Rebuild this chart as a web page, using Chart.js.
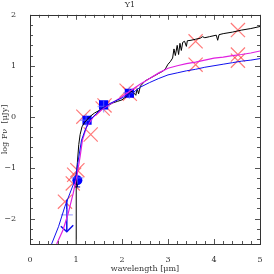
<!DOCTYPE html>
<html><head><meta charset="utf-8">
<script src="https://cdn.jsdelivr.net/npm/chart.js@4"></script>
<style>html,body{margin:0;padding:0;background:#fff}#w{width:274px;height:274px}</style>
</head><body><div id="w"><canvas id="c"></canvas></div>
<script>
const titleText = 'Y1';
const xTitle = 'wavelength [\u03BCm]';
const yTitle = 'log F\u03BD  [\u03BCJy]';
const xTickValues = [0,1,2,3,4,5];
const yTickValues = [-2,-1,0,1,2];

// black model spectrum
const blackX = [1.0,1.0,1.01,1.03,1.06,1.09,1.13,1.18,1.25,1.3,1.4,1.5,1.6,1.7,1.8,1.9,2.0,2.1,2.2,2.25,2.3,2.33,2.36,2.4,2.5,2.6,2.7,2.8,2.9,2.95,3.0,3.05,3.1,3.13,3.16,3.2,3.23,3.26,3.29,3.32,3.36,3.4,3.42,3.5,3.6,3.7,3.75,3.8,3.9,4.0,4.05,4.08,4.11,4.2,4.4,4.6,4.8,5.0];
const blackY = [-2.5,-1.6,-1.2,-0.9,-0.55,-0.35,-0.2,-0.12,-0.05,0.0,0.07,0.12,0.18,0.22,0.27,0.3,0.33,0.4,0.5,0.47,0.42,0.55,0.45,0.6,0.7,0.75,0.8,0.85,0.9,0.95,1.03,1.08,1.15,1.33,1.2,1.4,1.22,1.44,1.3,1.46,1.48,1.38,1.49,1.5,1.52,1.54,1.57,1.55,1.57,1.59,1.6,1.5,1.61,1.63,1.66,1.7,1.73,1.77];
// magenta model
const magX = [0.58,0.72,0.83,0.94,1.03,1.09,1.14,1.23,1.38,1.59,1.8,2.0,2.2,2.4,2.6,2.8,3.0,3.2,3.4,3.6,3.8,4.0,4.2,4.4,4.6,4.8,5.0];
const magY = [-2.5,-2.22,-1.9,-1.5,-1.11,-0.78,-0.46,-0.2,0.0,0.16,0.28,0.39,0.52,0.64,0.75,0.86,0.95,1.0,1.04,1.07,1.11,1.15,1.17,1.2,1.22,1.25,1.29];
// blue model
const blueX = [0.47,0.62,0.76,0.87,0.98,1.05,1.12,1.2,1.3,1.52,1.74,2.03,2.25,2.4,2.6,2.8,3.0,3.2,3.4,3.6,3.8,4.0,4.2,4.4,4.6,4.8,5.0];
const blueY = [-2.5,-2.16,-1.76,-1.5,-1.24,-0.85,-0.46,-0.26,-0.07,0.13,0.26,0.38,0.48,0.58,0.67,0.75,0.82,0.86,0.9,0.93,0.97,1.0,1.03,1.06,1.09,1.11,1.14];
// observed photometry
const squareX = [1.24,1.6,2.16];
const squareY = [-0.07,0.23,0.46];
const circleX = [1.03];
const circleY = [-1.25];
const paleX = [0.8,1.03,1.22,1.6,2.16];
const paleY = [-1.93,-1.2,-0.07,0.2,0.47];
// model photometry (red crosses)
const redX = [0.76,0.96,0.93,1.03,1.16,1.32,1.58,1.62,2.1,2.17,3.6,3.6,4.52,4.52,4.52];
const redY = [-1.67,-1.14,-1.31,-1.05,-0.0,-0.35,0.16,0.22,0.51,0.45,1.48,1.02,1.7,1.22,1.1];
// upper limit arrow at 0.8 micron
const arrowX = [0.8,0.8];
const arrowY = [-1.63,-2.26];
const headX = [0.67,0.8,0.94];
const headY = [-2.15,-2.26,-2.13];
const errX = [1.03,1.03];
const errY = [-1.25,-1.38];
const capX = [0.97,1.09];
const capY = [-1.38,-1.38];

const pts = (xs, ys) => xs.map((x,i)=>({x, y: ys[i]}));
const lineDs = (xs, ys, color, w) => ({data: pts(xs,ys), showLine:true, borderColor:color, borderWidth:w, pointRadius:0, tension:0, fill:false});

const FONT = 'DejaVu Serif';

const ticksPlugin = {
  id: 'innerTicks',
  afterDatasetsDraw(chart) {
    const {ctx, chartArea: a, scales: {x, y}} = chart;
    ctx.save();
    ctx.strokeStyle = '#555';
    ctx.lineWidth = 1;
    ctx.beginPath();
    for (let i = 0; i <= 25; i++) {
      const v = i * 0.2;
      const px = Math.round(x.getPixelForValue(v)) + 0.5;
      const len = (i % 5 === 0) ? 5 : 3;
      ctx.moveTo(px, a.bottom); ctx.lineTo(px, a.bottom - len);
      ctx.moveTo(px, a.top); ctx.lineTo(px, a.top + len);
    }
    for (let i = 0; i <= 22; i++) {
      const v = -2.4 + i * 0.2;
      const py = Math.round(y.getPixelForValue(v)) + 0.5;
      const len = (Math.abs(v - Math.round(v)) < 1e-6) ? 5 : 3;
      ctx.moveTo(a.left, py); ctx.lineTo(a.left + len, py);
      ctx.moveTo(a.right, py); ctx.lineTo(a.right - len, py);
    }
    ctx.stroke();
    ctx.strokeStyle = '#333';
    ctx.strokeRect(Math.round(a.left)+0.5, Math.round(a.top)+0.5, Math.round(a.right-a.left), Math.round(a.bottom-a.top));
    ctx.restore();
  }
};

new Chart(document.getElementById('c'), {
  type: 'scatter',
  data: {
    datasets: [
      lineDs(blueX, blueY, '#1010ee', 1),
      lineDs(magX, magY, '#e020e0', 1.2),
      lineDs(blackX, blackY, '#000000', 1),
      {data: pts(paleX, paleY), pointStyle:'cross', pointRadius:6, borderColor:'rgba(110,110,255,0.6)', borderWidth:1.3},
      lineDs(arrowX, arrowY, '#1010ee', 1.5),
      lineDs(headX, headY, '#1010ee', 1.5),
      lineDs(errX, errY, '#000088', 1),
      lineDs(capX, capY, '#000088', 1),
      {data: pts(squareX, squareY), pointStyle:'rect', pointRadius:6.5, backgroundColor:'#0000ff', borderColor:'#0000ff', borderWidth:0},
      {data: pts(circleX, circleY), pointStyle:'circle', pointRadius:5, backgroundColor:'#0000ff', borderColor:'#0000ff', borderWidth:0},
      {data: pts(redX, redY), pointStyle:'crossRot', pointRadius:10, borderColor:'rgba(255,40,40,0.62)', borderWidth:1.2, backgroundColor:'rgba(0,0,0,0)'}
    ]
  },
  options: {
    responsive: true,
    maintainAspectRatio: false,
    animation: false,
    events: [],
    layout: {padding: {left: 0, right: 14, top: 0, bottom: 0}},
    plugins: {
      legend: {display: false},
      tooltip: {enabled: false},
      title: {display: true, text: titleText, color:'#333', font:{family: FONT, size: 8, weight:'normal', lineHeight: 1.1}, padding:{top:1, bottom:5}}
    },
    scales: {
      x: {
        type: 'linear', min: 0, max: 5,
        grid: {display: false},
        border: {display: false},
        afterBuildTicks: s => { s.ticks = xTickValues.map(v => ({value: v})); },
        ticks: {color:'#333', font:{family: FONT, size: 8}, padding: 3, maxRotation: 0, callback: v => String(v)},
        title: {display: true, text: xTitle, color:'#333', font:{family: FONT, size: 8}, padding:{top:1, bottom:0}},
        afterFit: s => { s.height = 30; }
      },
      y: {
        type: 'linear', min: -2.5, max: 2,
        grid: {display: false},
        border: {display: false},
        afterBuildTicks: s => { s.ticks = yTickValues.map(v => ({value: v})); },
        ticks: {color:'#333', font:{family: FONT, size: 8}, padding: 6, callback: v => (v < 0 ? '\u2212' + Math.abs(v) : String(v))},
        title: {display: true, text: yTitle, color:'#333', font:{family: FONT, size: 8}, padding:{top:0, bottom:2}},
        afterFit: s => { s.width = 30; }
      }
    }
  },
  plugins: [ticksPlugin]
});
</script>
</body></html>
